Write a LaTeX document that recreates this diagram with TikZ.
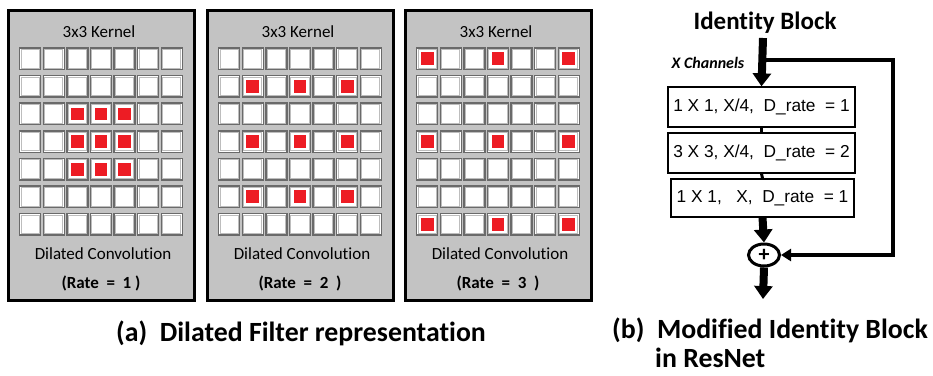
\documentclass[tikz,border=0pt]{standalone}
\usepackage{fontspec}
\setmainfont{Carlito}[Ligatures=NoCommon]
\newfontfamily\arialf{Liberation Sans}
\usetikzlibrary{arrows.meta,calc,shapes.geometric}
\definecolor{panelgray}{HTML}{C3C3C3}
\definecolor{cellred}{HTML}{ED1C24}
\definecolor{celledge}{HTML}{6A6A6A}
\definecolor{cellinner}{HTML}{BDBDBD}
\begin{document}
\begin{tikzpicture}[x=1pt,y=-1pt,
  panelbox/.style={draw=black,line width=3pt,fill=panelgray},
  kerneltext/.style={font=\fontsize{17}{19}\selectfont,inner sep=0pt},
  ratetext/.style={font=\fontsize{17}{19}\selectfont\bfseries,inner sep=0pt},
  layerbox/.style={draw=black,line width=1.3pt,fill=white,minimum width=187pt,minimum height=40pt,inner sep=0pt,font=\arialf\fontsize{17.3}{19}\selectfont},
  sumnode/.style={ellipse,draw=black,line width=3pt,fill=white,minimum width=31pt,minimum height=22pt,inner sep=0pt,font=\fontsize{22}{22}\selectfont\bfseries},
  bigarrow/.style={line width=8pt,-{Triangle[width=18pt,length=13pt]}},
  skiparrow/.style={line width=4pt,line join=miter,-{Triangle[width=12pt,length=10pt]}},
  linkline/.style={line width=3pt},
  captext/.style={font=\fontsize{27.8}{30}\selectfont\bfseries,inner sep=0pt},
]
\useasboundingbox (0,0) rectangle (933,375);
\fill[white] (0,0) rectangle (933,375);

% panels
\foreach \px/\r/\rt in {8/1/{(Rate~~=~~1~)},207/2/{(Rate~~=~~2~~)},405/3/{(Rate~~=~~3~~)}} {
  \draw[panelbox] (\px,10) rectangle ++(186,290);
  \node[kerneltext] at (\px+91,32) {3x3 Kernel};
  \foreach \i in {0,...,6} {
    \foreach \j in {0,...,6} {
      \draw[line width=1.5pt,draw=celledge,fill=white]
        (\px+11.7+\i*23.6,48+\j*27.6) rectangle ++(21,21.5);
      \draw[line width=0.9pt,draw=cellinner]
        (\px+11.7+\i*23.6+1.4,48+\j*27.6+1.4) rectangle ++(18.2,18.7);
    }
  }
  \foreach \a in {-1,0,1} {
    \foreach \b in {-1,0,1} {
      \pgfmathsetmacro\cx{\px+11.7+(3+\r*\a)*23.6+10.5-6.4}
      \pgfmathsetmacro\cy{48+(3+\r*\b)*27.6+10.75-6.4}
      \fill[cellred] (\cx,\cy) rectangle ++(12.8,12.8);
    }
  }
  \node[kerneltext] at (\px+95,254) {Dilated Convolution};
  \node[ratetext] at (\px+93,283) {\rt};
}

\node[captext] (capa) at (301,333) {(a)~~Dilated Filter representation};

% identity block
\node[font=\fontsize{25}{28}\selectfont\bfseries,inner sep=0pt] (title) at (765,23) {Identity Block};
\node[font=\fontsize{16}{18}\selectfont\bfseries\itshape,inner sep=0pt] (xch) at (708,63) {X Channels};
\coordinate (top) at (763,38);
\coordinate (split) at (763,60);
\coordinate (corner) at (893,255);
\coordinate (out) at (763,299);

\node[layerbox] (b1) at (761.5,107) {1 X 1, X/4,~~D\_rate~~= 1};
\node[layerbox] (b2) at (761.5,153) {3 X 3, X/4,~~D\_rate~~= 2};
\node[layerbox,minimum width=183pt,minimum height=38pt] (b3) at (762.5,198) {1 X 1,~~ X,~~D\_rate~~= 1};
\node[sumnode] (s) at (764,255) {+};

\draw[bigarrow] (top) -- (b1.north);
\draw[skiparrow] (split) -| (corner) -- (s.east);
\draw[linkline] (b1.south) -- (b2.north);
\draw[linkline] (b2.south) -- (b3.north);
\draw[bigarrow] (b3.south) -- (s.north);
\draw[bigarrow] (s.south) -- (out);

\node[captext,anchor=west] (capb) at (612,330) {(b)~~Modified Identity Block};
\node[captext,anchor=west] (capc) at (655,358) {in ResNet};
\end{tikzpicture}
\end{document}
